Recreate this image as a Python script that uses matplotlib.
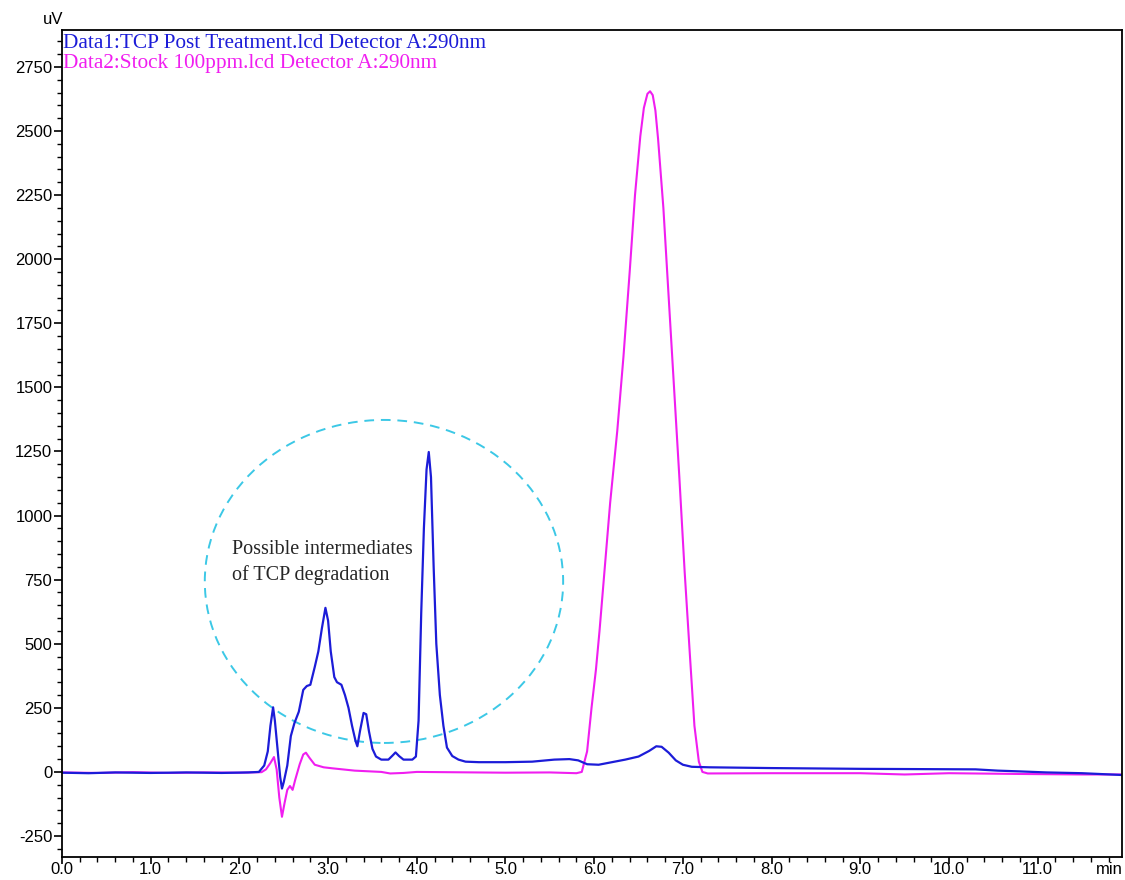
import matplotlib.pyplot as plt
from matplotlib.patches import Ellipse
from matplotlib.ticker import MultipleLocator

plt.rcParams['axes.unicode_minus'] = False

# Data1: TCP post treatment (blue)
t1 = [0.00, 0.30, 0.60, 1.00, 1.40, 1.80, 2.10, 2.22, 2.28, 2.32, 2.35, 2.38,
      2.40, 2.43, 2.46, 2.48, 2.50, 2.54, 2.58, 2.62, 2.67, 2.72, 2.76, 2.80,
      2.85, 2.89, 2.93, 2.97, 3.00, 3.03, 3.07, 3.10, 3.15, 3.19, 3.23, 3.27,
      3.31, 3.33, 3.36, 3.40, 3.43, 3.46, 3.50, 3.54, 3.60, 3.68, 3.73, 3.76,
      3.80, 3.85, 3.95, 3.99, 4.02, 4.05, 4.08, 4.11, 4.135, 4.16, 4.19, 4.22,
      4.26, 4.30, 4.34, 4.40, 4.47, 4.55, 4.70, 5.00, 5.30, 5.55, 5.72, 5.82,
      5.92, 6.05, 6.20, 6.35, 6.50, 6.62, 6.70, 6.76, 6.84, 6.92, 7.00, 7.10,
      7.30, 8.00, 9.00, 10.30, 10.55, 10.80, 11.10, 11.50, 11.95]
v1 = [-3, -5, -2, -4, -2, -4, -2, 0, 25, 80, 180, 252,
      200, 90, -20, -65, -40, 25, 140, 190, 235, 320, 335, 340,
      410, 470, 560, 640, 590, 470, 370, 350, 340, 300, 250, 180,
      120, 100, 160, 230, 225, 160, 90, 60, 48, 48, 65, 76,
      62, 48, 48, 60, 200, 620, 950, 1180, 1248, 1150, 800, 500,
      300, 180, 95, 62, 48, 40, 38, 38, 40, 48, 50, 45,
      30, 28, 38, 48, 60, 82, 100, 98, 75, 45, 28, 20,
      18, 15, 12, 10, 5, 2, -2, -5, -12]

# Data2: Stock 100ppm (magenta)
t2 = [0.00, 0.40, 0.80, 1.20, 1.60, 2.00, 2.25, 2.30, 2.35, 2.39, 2.42, 2.45,
      2.48, 2.51, 2.54, 2.57, 2.60, 2.63, 2.68, 2.72, 2.75, 2.79, 2.85, 2.95,
      3.05, 3.30, 3.60, 3.70, 3.85, 4.00, 5.00, 5.50, 5.80, 5.86, 5.92, 5.97,
      6.02, 6.06, 6.12, 6.18, 6.26, 6.33, 6.40, 6.46, 6.52, 6.56, 6.60, 6.63,
      6.66, 6.69, 6.72, 6.78, 6.84, 6.90, 6.96, 7.02, 7.08, 7.13, 7.18, 7.22,
      7.28, 8.00, 9.00, 9.50, 10.00, 10.80, 11.50, 11.95]
v2 = [-2, -4, -1, -4, -2, -3, -1, 10, 35, 58, 10, -100,
      -175, -120, -70, -55, -70, -30, 30, 68, 75, 55, 28, 18,
      14, 5, 0, -6, -4, 0, -3, -2, -5, 0, 80, 250,
      400, 550, 800, 1050, 1330, 1620, 1950, 2250, 2480, 2590, 2645, 2655,
      2640, 2580, 2470, 2200, 1850, 1500, 1150, 780, 450, 180, 40, 0,
      -6, -5, -5, -10, -5, -8, -10, -10]

label1 = 'Data1:TCP Post Treatment.lcd Detector A:290nm'
label2 = 'Data2:Stock 100ppm.lcd Detector A:290nm'
note = 'Possible intermediates\nof TCP degradation'

blue = '#1c1cd8'
magenta = '#f01ef0'

fig = plt.figure(figsize=(11.25, 8.8), dpi=100)
ax = fig.add_axes([0.0551, 0.0261, 0.9422, 0.9398])

ax.plot(t2, v2, color=magenta, lw=1.5)
ax.plot(t1, v1, color=blue, lw=1.6)

# dashed circle around the intermediates
ell = Ellipse((3.63, 743), 4.04, 1260, fill=False, ec='#3cc8e6', lw=1.4,
              ls=(0, (5, 3.5)))
ax.add_patch(ell)
ax.text(1.92, 905, note, fontsize=14.5, family='Liberation Serif',
        color='#262626', va='top', ha='left', linespacing=1.4)

ax.set_xlim(0, 11.95)
ax.set_ylim(-332, 2894)
ax.xaxis.set_major_locator(MultipleLocator(1.0))
ax.xaxis.set_minor_locator(MultipleLocator(0.2))
ax.yaxis.set_major_locator(MultipleLocator(250))
ax.yaxis.set_minor_locator(MultipleLocator(50))
ax.xaxis.set_major_formatter(lambda x, p: '%.1f' % x)
ax.tick_params(which='major', length=6, width=1.2, direction='out',
               labelsize=12)
ax.tick_params(which='minor', length=3.5, width=1.0, direction='out')
ax.tick_params(axis='y', pad=1)
ax.tick_params(axis='x', which='major', length=5, pad=-1.5)
for lab in ax.get_xticklabels() + ax.get_yticklabels():
    lab.set_family('Liberation Sans')
for s in ax.spines.values():
    s.set_linewidth(1.3)

ax.annotate(label1, xy=(0, 1), xycoords='axes fraction', xytext=(1, -3),
            textcoords='offset points', va='top', ha='left', color=blue,
            fontsize=15.3, family='Liberation Serif')
ax.annotate(label2, xy=(0, 1), xycoords='axes fraction', xytext=(1, -17.5),
            textcoords='offset points', va='top', ha='left', color=magenta,
            fontsize=15.3, family='Liberation Serif')

fig.text(53 / 1125, 1 - 19 / 880, 'uV', ha='center', va='center',
         fontsize=12, family='Liberation Sans')
fig.text(1123 / 1125, 1 - 869 / 880, 'min', ha='right', va='center',
         fontsize=12, family='Liberation Sans')

fig.savefig('out.png', dpi=100)
